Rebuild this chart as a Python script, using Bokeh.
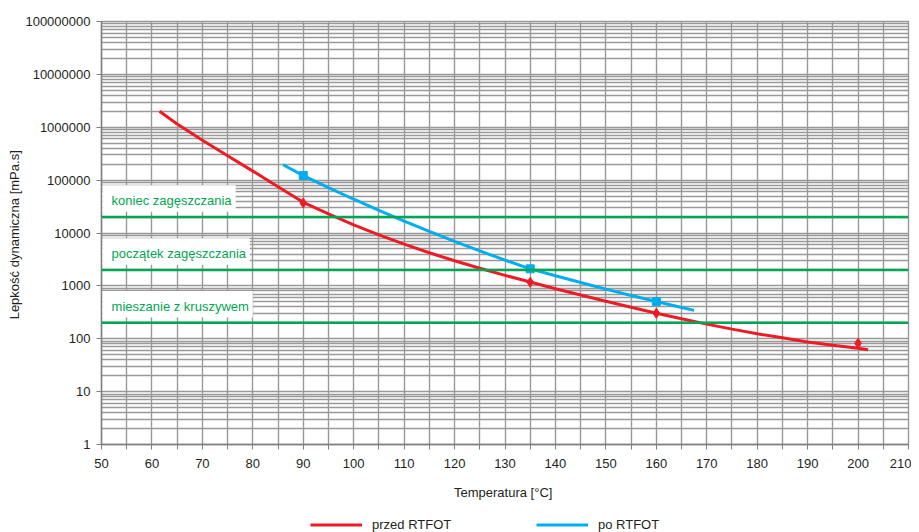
from bokeh.plotting import figure
from bokeh.layouts import column
from bokeh.models import (Range1d, FixedTicker, NumeralTickFormatter, Span,
                          BoxAnnotation, Label, Legend, LegendItem)
from bokeh.embed import file_html
from bokeh.resources import INLINE

# ---- data ----
red_T = [61.5, 65, 70, 75, 80, 85, 90, 95, 100, 105, 110, 115, 120, 125, 130,
         135, 140, 145, 150, 155, 160, 165, 170, 175, 180, 185, 190, 195, 200, 202]
red_eta = [2.0e6, 1.15e6, 5.7e5, 2.9e5, 1.48e5, 7.5e4, 3.8e4, 2.29e4, 1.43e4, 9.2e3,
           6.15e3, 4.23e3, 2.98e3, 2.15e3, 1.58e3, 1.18e3, 885, 671, 513, 394, 303,
           238, 189, 152, 124, 104, 87, 75, 66, 62]
red_pts_T = [90, 135, 160, 200]
red_pts_eta = [3.7e4, 1.17e3, 303, 82]

blue_T = [86, 90, 95, 100, 105, 110, 115, 120, 125, 130, 135, 140, 145, 150,
          155, 160, 165, 167.5]
blue_eta = [1.95e5, 1.22e5, 7.2e4, 4.35e4, 2.67e4, 1.67e4, 1.07e4, 6.93e3, 4.58e3,
            3.08e3, 2.1e3, 1.55e3, 1.16e3, 869, 659, 505, 390, 344]
blue_pts_T = [90, 135, 160]
blue_pts_eta = [1.22e5, 2.1e3, 505]

series_names = ["przed RTFOT", "po RTFOT"]

levels = [20000, 2000, 200]
level_labels = ["koniec zagęszczania", "początek zagęszczania", "mieszanie z kruszywem"]
box_right = [76.6, 79.4, 80.0]

x_ticks = list(range(50, 211, 10))
x_minor = list(range(55, 210, 10))
y_ticks = [1, 10, 100, 1000, 10000, 100000, 1000000, 10000000, 100000000]
y_grid = [m * 10 ** e for e in range(0, 8) for m in range(1, 10)] + [100000000]

FONT = "Liberation Sans"
RED = "#ed1c24"
BLUE = "#00aeef"
GREEN = "#00a651"
GRID = "#999999"
AX = "#7f7f7f"
TXT = "#231f20"

p = figure(width=911, height=510, x_range=Range1d(50, 210), y_range=Range1d(1, 1e8),
           y_axis_type="log", output_backend="svg", toolbar_location=None,
           min_border_left=101, min_border_right=3, min_border_top=21,
           min_border_bottom=66, background_fill_color="white",
           border_fill_color="white")
p.outline_line_color = GRID
p.outline_line_width = 1.4

# grid
p.xgrid.ticker = FixedTicker(ticks=list(range(50, 211, 5)))
p.ygrid.ticker = FixedTicker(ticks=y_grid)
for g in (p.xgrid, p.ygrid):
    g.grid_line_color = GRID
    g.grid_line_width = 1.4

# axes
p.xaxis.ticker = FixedTicker(ticks=x_ticks, minor_ticks=x_minor)
p.yaxis.ticker = FixedTicker(ticks=y_ticks, minor_ticks=[])
p.yaxis.formatter = NumeralTickFormatter(format="0")
for ax in (p.xaxis, p.yaxis):
    ax.axis_line_color = AX
    ax.axis_line_width = 1.4
    ax.major_tick_line_color = AX
    ax.minor_tick_line_color = AX
    ax.major_tick_out = 5
    ax.major_tick_in = 0
    ax.minor_tick_out = 5
    ax.minor_tick_in = 0
    ax.major_label_text_font = FONT
    ax.major_label_text_font_size = "13px"
    ax.major_label_text_color = TXT
    ax.axis_label_text_font = FONT
    ax.axis_label_text_font_size = "13px"
    ax.axis_label_text_font_style = "normal"
    ax.axis_label_text_color = TXT
p.yaxis.minor_tick_line_color = None
p.xaxis.major_label_standoff = 9
p.yaxis.major_label_standoff = 6
p.xaxis.axis_label = "Temperatura  [°C]"
p.yaxis.axis_label = "Lepkość dynamiczna  [mPa.s]"
p.xaxis.axis_label_standoff = 14
p.yaxis.axis_label_standoff = 0

# threshold lines and labels
for lev, txt, br in zip(levels, level_labels, box_right):
    p.add_layout(Span(location=lev, dimension="width", line_color=GREEN, line_width=2.5))
    p.add_layout(BoxAnnotation(left=50.2, right=br, bottom=lev * 10 ** 0.1,
                               top=lev * 10 ** 0.6, fill_color="white", fill_alpha=1,
                               line_color=None))
    p.add_layout(Label(x=52, y=lev * 10 ** 0.31, text=txt, text_baseline="middle",
                       text_font=FONT, text_font_size="13px", text_color=GREEN))

# curves
p.line(red_T, red_eta, line_color=RED, line_width=3)
p.scatter(red_pts_T, red_pts_eta, marker="diamond", size=10, fill_color=RED,
          line_color=RED)
p.line(blue_T, blue_eta, line_color=BLUE, line_width=3)
p.scatter(blue_pts_T, blue_pts_eta, marker="square", size=8, fill_color=BLUE,
          line_color=BLUE)

# legend strip below the chart (series drawn outside its visible range,
# only their legend swatches show)
lg = figure(width=911, height=22, x_range=Range1d(0, 1), y_range=Range1d(-1, 0),
            output_backend="svg", toolbar_location=None, x_axis_location=None,
            y_axis_location=None, min_border=0, min_border_left=0,
            min_border_right=0, min_border_top=0, min_border_bottom=0,
            background_fill_color="white", border_fill_color="white")
lg.outline_line_color = None
lg.grid.visible = False
lr = lg.line(red_T, red_eta, line_color=RED, line_width=3)
lb = lg.line(blue_T, blue_eta, line_color=BLUE, line_width=3)
legend = Legend(items=[LegendItem(label=series_names[0], renderers=[lr]),
                       LegendItem(label=series_names[1], renderers=[lb])],
                location=(209, 0), orientation="horizontal", padding=0, margin=0,
                spacing=0, glyph_width=52, glyph_height=15, label_height=15,
                label_standoff=10, label_width=164, label_text_font=FONT,
                label_text_font_size="13px", label_text_color=TXT,
                background_fill_alpha=0, border_line_alpha=0)
lg.add_layout(legend)

layout = column(p, lg, spacing=0)
open("out.html", "w").write(file_html(layout, INLINE))
